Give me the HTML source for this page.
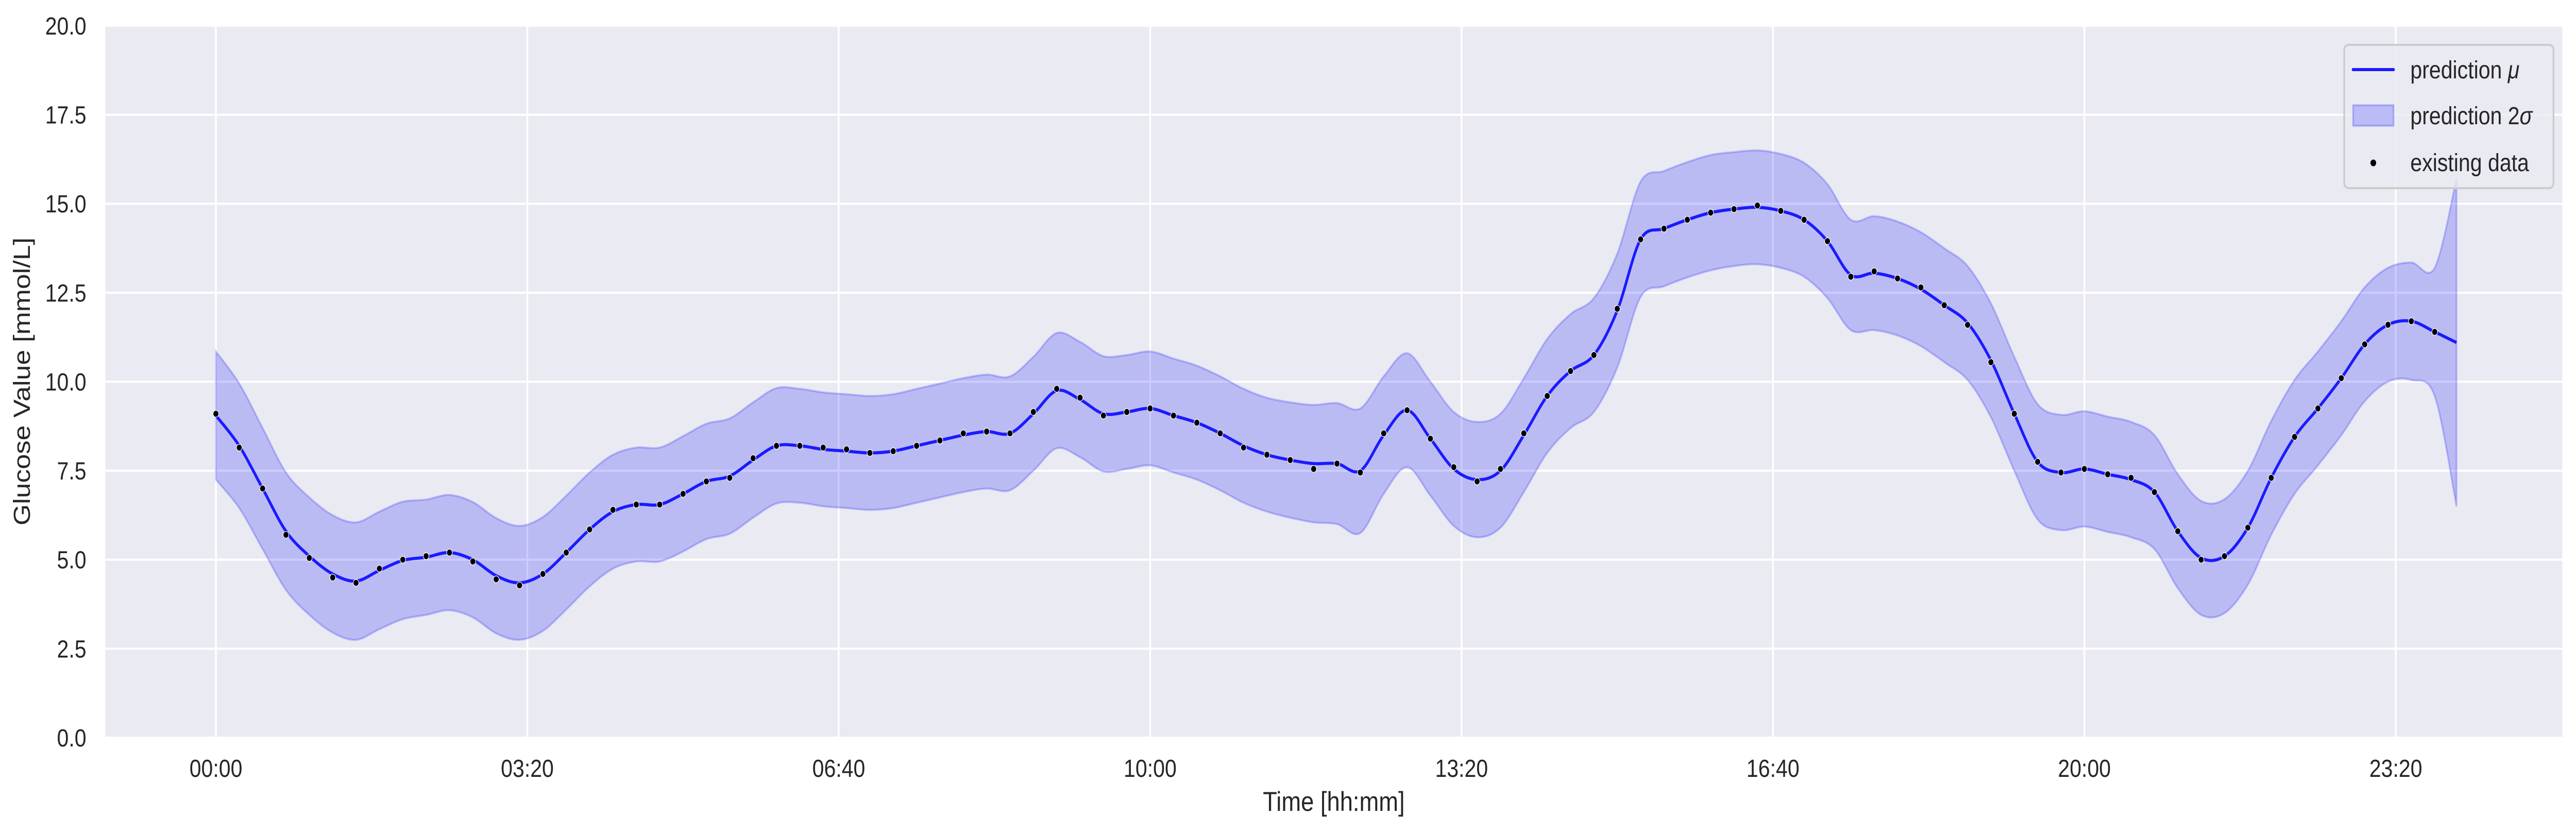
<!DOCTYPE html>
<html><head><meta charset="utf-8"><style>
html,body{margin:0;padding:0;background:#fff;width:100vw;height:100vh;overflow:hidden}
svg{display:block;width:100vw;height:100vh;font-family:"Liberation Sans","DejaVu Sans",sans-serif}
</style></head><body>
<svg id="chart" viewBox="0 0 5846 1612" preserveAspectRatio="none" xmlns="http://www.w3.org/2000/svg"></svg>
<script>
// ---- data (15-minute samples, minutes since 00:00) ----
const timesMin = [0,15,30,45,60,75,90,105,120,135,150,165,180,195,210,225,240,255,270,285,300,315,330,345,360,375,390,405,420,435,450,465,480,495,510,525,540,555,570,585,600,615,630,645,660,675,690,705,720,735,750,765,780,795,810,825,840,855,870,885,900,915,930,945,960,975,990,1005,1020,1035,1050,1065,1080,1095,1110,1125,1140,1155,1170,1185,1200,1215,1230,1245,1260,1275,1290,1305,1320,1335,1350,1365,1380,1395,1410,1425,1439];
const predMean = [9.05,8.2,7.0,5.8,5.1,4.6,4.4,4.7,4.98,5.07,5.2,5.0,4.55,4.35,4.6,5.2,5.85,6.35,6.55,6.55,6.85,7.2,7.35,7.8,8.2,8.2,8.1,8.05,8.0,8.05,8.2,8.35,8.5,8.6,8.55,9.1,9.75,9.5,9.1,9.15,9.25,9.05,8.85,8.55,8.2,7.95,7.8,7.7,7.7,7.5,8.5,9.2,8.4,7.55,7.25,7.5,8.5,9.6,10.3,10.75,12.0,14.0,14.3,14.55,14.75,14.85,14.9,14.8,14.55,13.95,13.0,13.05,12.9,12.6,12.15,11.65,10.6,9.1,7.75,7.45,7.55,7.4,7.25,6.9,5.8,5.05,5.1,5.9,7.3,8.45,9.25,10.1,11.05,11.6,11.7,11.4,11.1];
const twoSigma = [1.8,1.75,1.7,1.65,1.65,1.65,1.65,1.65,1.65,1.62,1.62,1.62,1.62,1.6,1.6,1.6,1.6,1.6,1.6,1.6,1.62,1.62,1.62,1.62,1.62,1.6,1.6,1.6,1.6,1.6,1.6,1.6,1.6,1.6,1.6,1.6,1.62,1.62,1.62,1.6,1.6,1.6,1.6,1.6,1.6,1.6,1.62,1.65,1.7,1.75,1.65,1.6,1.6,1.6,1.62,1.6,1.6,1.6,1.6,1.6,1.6,1.62,1.62,1.62,1.62,1.6,1.6,1.6,1.6,1.6,1.55,1.6,1.6,1.6,1.6,1.6,1.6,1.6,1.62,1.62,1.62,1.62,1.62,1.6,1.6,1.6,1.6,1.6,1.6,1.6,1.6,1.6,1.6,1.6,1.65,1.8,4.6];
const dataTimes = [0,15,30,45,60,75,90,105,120,135,150,165,180,195,210,225,240,255,270,285,300,315,330,345,360,375,390,405,420,435,450,465,480,495,510,525,540,555,570,585,600,615,630,645,660,675,690,705,720,735,750,765,780,795,810,825,840,855,870,885,900,915,930,945,960,975,990,1005,1020,1035,1050,1065,1080,1095,1110,1125,1140,1155,1170,1185,1200,1215,1230,1245,1260,1275,1290,1305,1320,1335,1350,1365,1380,1395,1410,1425];
const dataValues = [9.1,8.15,7.0,5.7,5.05,4.5,4.35,4.75,5.0,5.1,5.2,4.95,4.45,4.28,4.6,5.2,5.85,6.4,6.55,6.55,6.85,7.2,7.3,7.85,8.2,8.2,8.15,8.1,8.0,8.05,8.2,8.35,8.55,8.6,8.55,9.15,9.8,9.55,9.05,9.15,9.25,9.05,8.85,8.55,8.15,7.95,7.8,7.55,7.7,7.45,8.55,9.2,8.4,7.6,7.2,7.55,8.55,9.6,10.3,10.75,12.05,14.0,14.3,14.55,14.75,14.85,14.95,14.8,14.55,13.95,12.95,13.1,12.9,12.65,12.15,11.6,10.55,9.1,7.75,7.45,7.55,7.4,7.3,6.9,5.8,5.0,5.1,5.9,7.3,8.45,9.25,10.1,11.05,11.6,11.7,11.4];
const yTicks = [0,2.5,5,7.5,10,12.5,15,17.5,20];
const yTickLabels = ["0.0","2.5","5.0","7.5","10.0","12.5","15.0","17.5","20.0"];
const xTicks = [0,200,400,600,800,1000,1200,1400];
const xTickLabels = ["00:00","03:20","06:40","10:00","13:20","16:40","20:00","23:20"];

// ---- layout ----
const L=239,R=5815,T=50,B=1431;
const X0=490, PX_PER_MIN=(5437-490)/1400;
const x = t => X0 + t*PX_PER_MIN;
const y = v => B - (v/20)*(B-T);
const NS="http://www.w3.org/2000/svg";
const svg=document.getElementById('chart');
function mk(tag, attrs, parent){const e=document.createElementNS(NS,tag);for(const k in attrs)e.setAttribute(k,attrs[k]);(parent||svg).appendChild(e);return e;}

const bg=mk('rect',{x:L,y:T,width:R-L,height:B-T,fill:'#eaeaf2'});



const grid=mk('g',{});


yTicks.forEach((v,i)=>{
  const ln=mk('line',{x1:L,x2:R,y1:y(v),y2:y(v),stroke:'#fff','stroke-width':4},grid);
  
  
  const tx=mk('text',{x:196,y:y(v)+17,'text-anchor':'end','font-size':48,fill:'#262626'});
  tx.textContent=yTickLabels[i];
  
  
});
xTicks.forEach((t,i)=>{
  const ln=mk('line',{x1:x(t),x2:x(t),y1:T,y2:B,stroke:'#fff','stroke-width':4},grid);
  
  
  const tx=mk('text',{x:x(t),y:1507,'text-anchor':'middle','font-size':48,fill:'#262626'});
  tx.textContent=xTickLabels[i];
  
  
});

function smooth(pts){
  let d='M'+pts[0][0].toFixed(1)+','+pts[0][1].toFixed(1);
  for(let i=0;i<pts.length-1;i++){
    const p0=pts[Math.max(0,i-1)],p1=pts[i],p2=pts[i+1],p3=pts[Math.min(pts.length-1,i+2)];
    const c1=[p1[0]+(p2[0]-p0[0])/6,p1[1]+(p2[1]-p0[1])/6];
    const c2=[p2[0]-(p3[0]-p1[0])/6,p2[1]-(p3[1]-p1[1])/6];
    d+=' C'+c1.map(n=>n.toFixed(1))+' '+c2.map(n=>n.toFixed(1))+' '+p2[0].toFixed(1)+','+p2[1].toFixed(1);
  }
  return d;
}
const upper=timesMin.map((t,i)=>[x(t),y(predMean[i]+twoSigma[i])]);
const lower=timesMin.map((t,i)=>[x(t),y(predMean[i]-twoSigma[i])]).reverse();
const bandD=smooth(upper)+' L'+lower[0][0].toFixed(1)+','+lower[0][1].toFixed(1)+smooth(lower).replace(/^M[^C]*/,' ')+' Z';
const band=mk('path',{d:bandD,fill:'rgba(0,0,255,0.2)',stroke:'rgba(0,0,255,0.2)','stroke-width':4});



const meanPts=timesMin.map((t,i)=>[x(t),y(predMean[i])]);
const line=mk('path',{d:smooth(meanPts),fill:'none',stroke:'#1a1aff','stroke-width':6,'stroke-linejoin':'round'});



const dots=mk('g',{});


dataTimes.forEach((t,i)=>{
  const c=mk('circle',{cx:x(t),cy:y(dataValues[i]),r:6.5,fill:'#000',stroke:'#fff','stroke-width':1.2},dots);
  
  
});

const ylab=mk('text',{x:0,y:0,transform:'translate(68,740) rotate(-90)','text-anchor':'middle','font-size':53,fill:'#262626'});
ylab.textContent='Glucose Value [mmol/L]';


const xlab=mk('text',{x:(L+R)/2,y:1573,'text-anchor':'middle','font-size':53,fill:'#262626'});
xlab.textContent='Time [hh:mm]';



const lg=mk('g',{});


mk('rect',{x:5320,y:87,width:475,height:278,rx:10,fill:'rgba(234,234,242,0.8)',stroke:'#cccccc','stroke-width':4},lg);
mk('line',{x1:5340,x2:5432,y1:135,y2:135,stroke:'#1a1aff','stroke-width':6,'stroke-linecap':'round'},lg);
mk('rect',{x:5340,y:204,width:92,height:40,fill:'rgba(0,0,255,0.2)',stroke:'rgba(0,0,255,0.2)','stroke-width':4},lg);
mk('circle',{cx:5386,cy:316,r:6.5,fill:'#000'},lg);
const labels=[['prediction ','μ',152],['prediction 2','σ',241],['existing data','',332]];
labels.forEach(l=>{
  const t=mk('text',{x:5470,y:l[2],'font-size':48,fill:'#262626'},lg);
  t.appendChild(document.createTextNode(l[0]));
  if(l[1]){const s=mk('tspan',{'font-style':'italic'},t);s.textContent=l[1];}
  
  
});
</script>
</body></html>
